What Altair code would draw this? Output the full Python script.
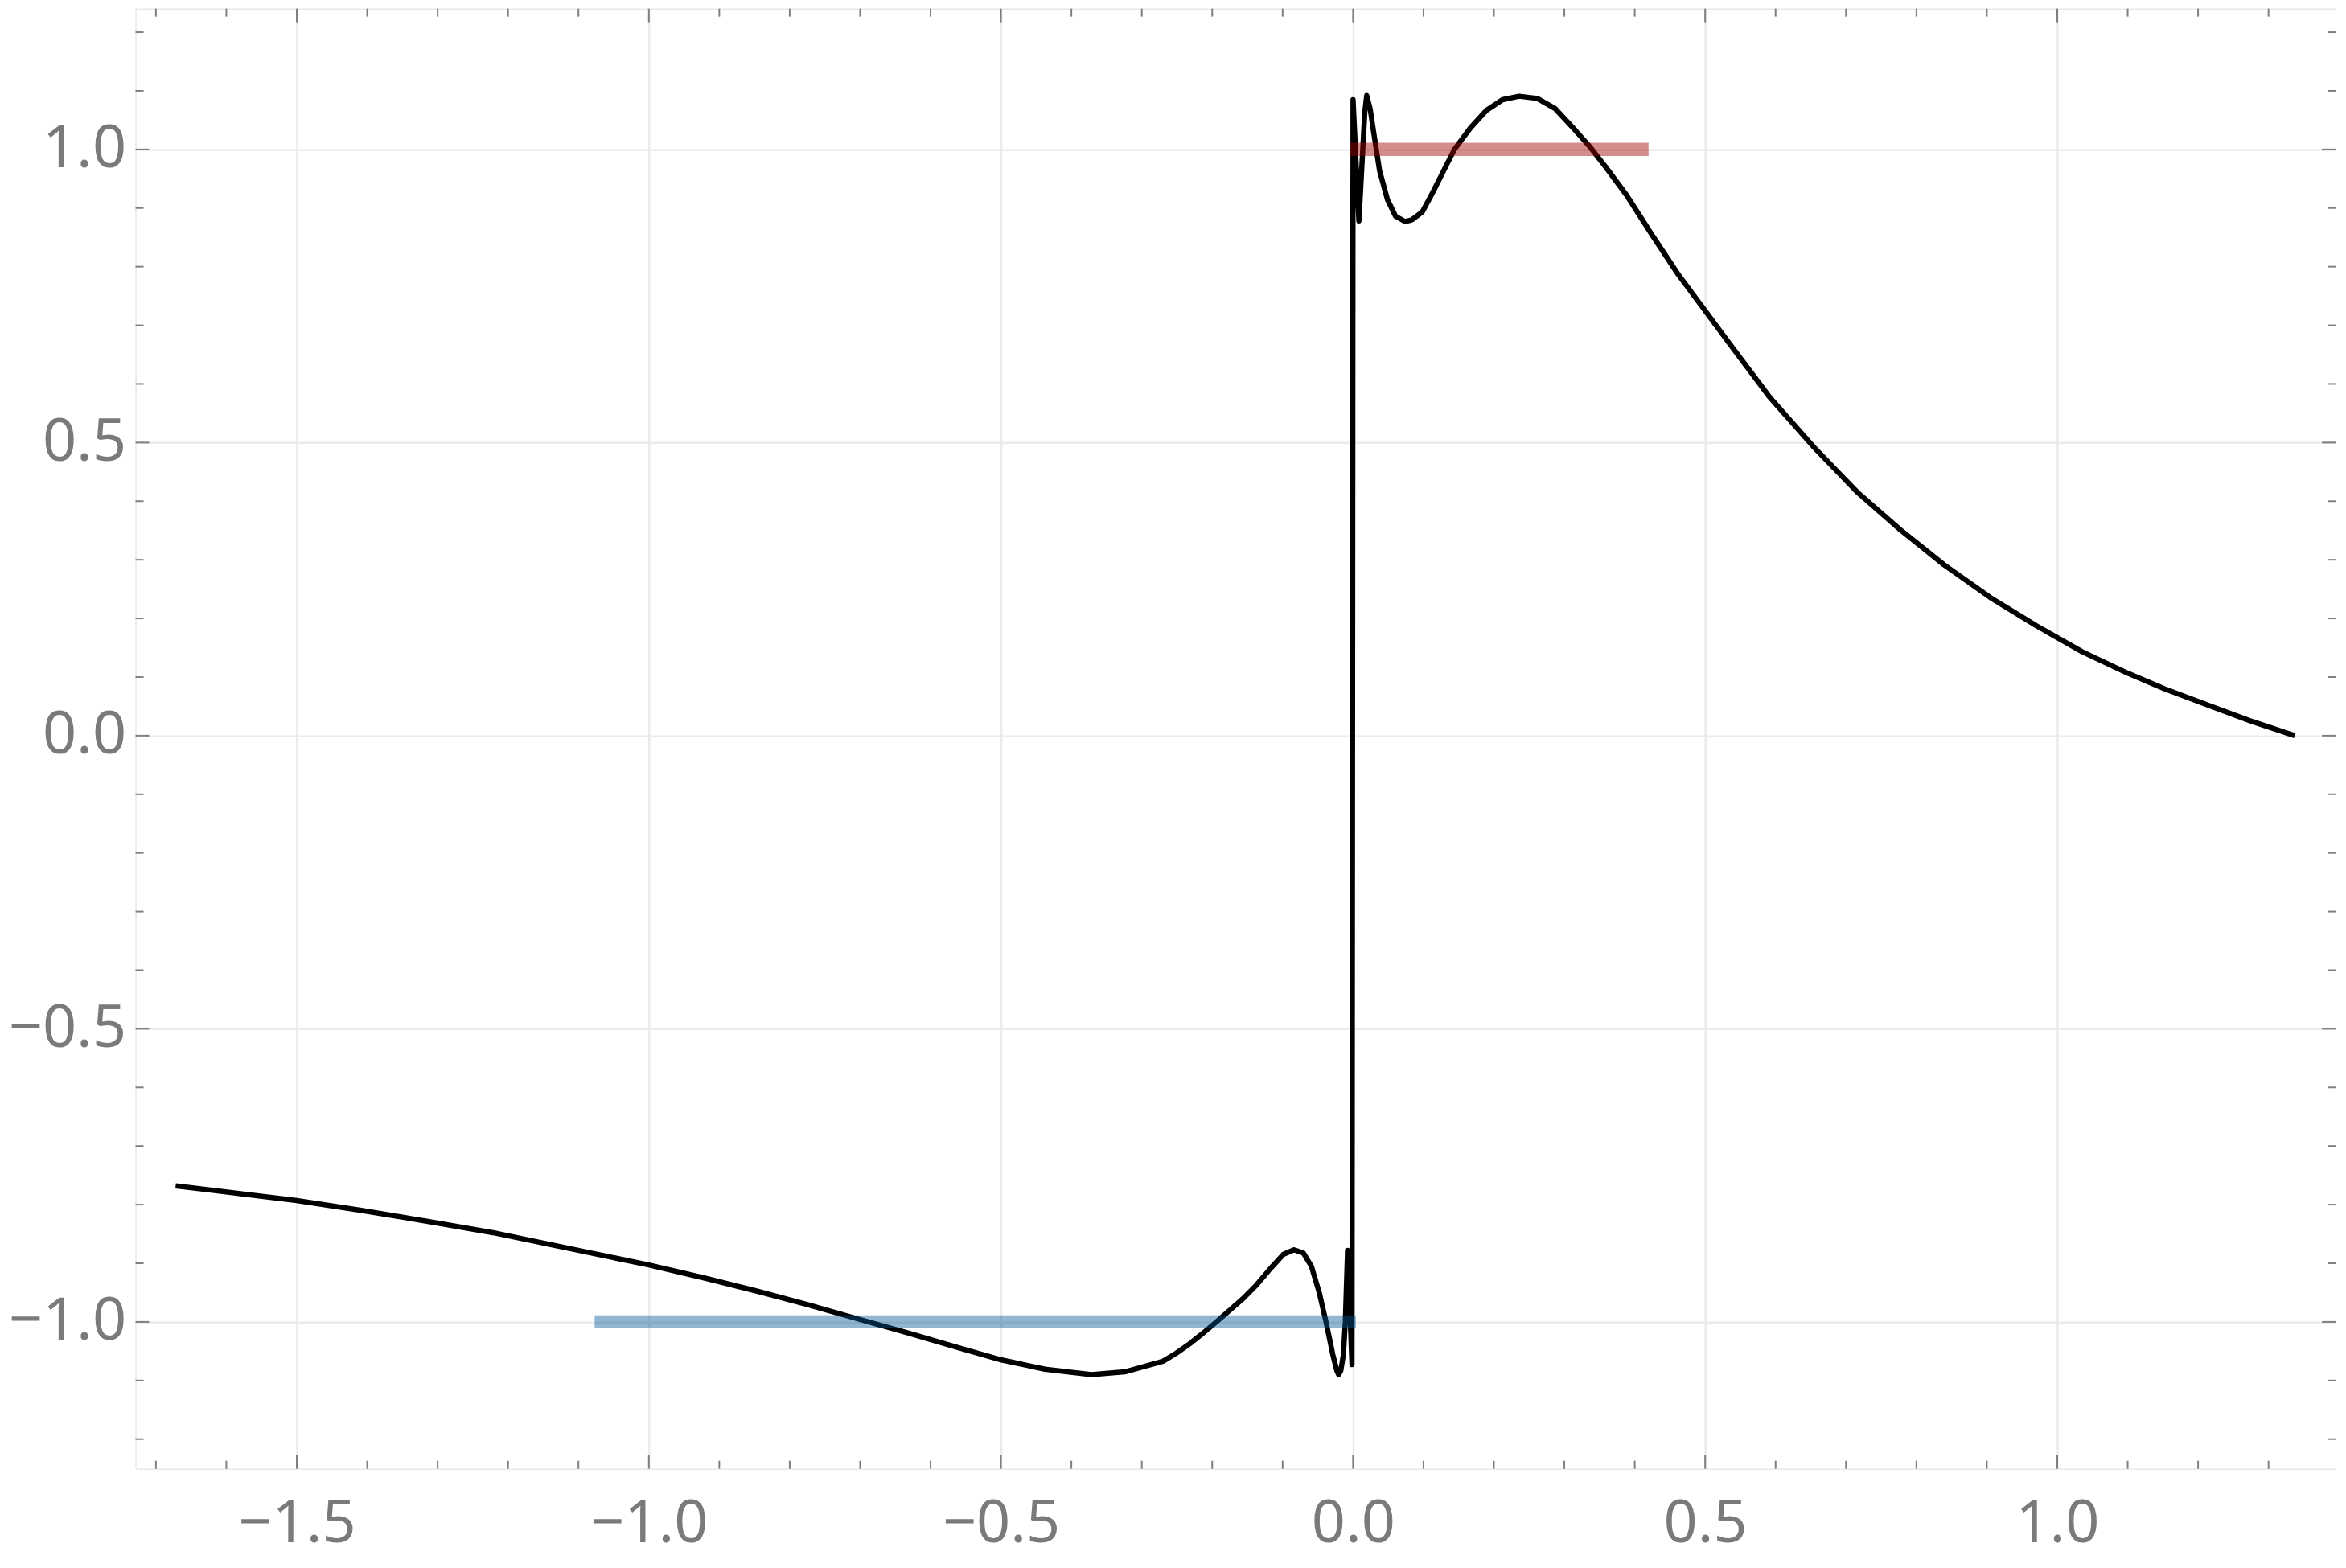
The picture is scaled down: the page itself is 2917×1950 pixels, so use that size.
import altair as alt
import pandas as pd

# ---- data ----
curve_x = [-1.672, -1.5, -1.4102, -1.317, -1.2214, -1.128, -1.0, -0.9191, -0.845,
           -0.7728, -0.703, -0.6312, -0.561, -0.499, -0.4376, -0.3715, -0.3243,
           -0.2699, -0.2509, -0.232, -0.213, -0.194, -0.175, -0.156, -0.137, -0.118,
           -0.0991, -0.0839, -0.0706, -0.0592, -0.0478, -0.0384, -0.0288, -0.0231,
           -0.0205, -0.0174, -0.0137, -0.011, -0.0078, -0.0015, 0.0,
           0.0083, 0.011, 0.014, 0.0167, 0.0194, 0.0243, 0.030, 0.0376, 0.049, 0.0604,
           0.0738, 0.0831, 0.0983, 0.1135, 0.1287, 0.1439, 0.1667, 0.1894, 0.2122,
           0.2358, 0.2616, 0.2866, 0.3153, 0.3374, 0.3588, 0.3884, 0.4241, 0.461,
           0.5338, 0.5919, 0.6537, 0.7155, 0.7774, 0.8392, 0.9047, 0.970, 1.0356,
           1.101, 1.152, 1.2173, 1.2755, 1.3373]
curve_y = [-0.768, -0.793, -0.8095, -0.828, -0.8478, -0.871, -0.903, -0.9257, -0.948,
           -0.9713, -0.995, -1.0192, -1.044, -1.065, -1.0807, -1.0899, -1.0852,
           -1.0672, -1.0533, -1.0374, -1.0192, -1.0, -0.980, -0.960, -0.937, -0.910,
           -0.885, -0.877, -0.8826, -0.905, -0.951, -1.0, -1.0557, -1.083,
           -1.090, -1.083, -1.0557, -1.0, -0.878, -1.073, 1.085,
           0.878, 0.937, 1.005, 1.064, 1.092, 1.0689, 1.0236, 0.964, 0.914, 0.886,
           0.877, 0.8797, 0.8933, 0.9275, 0.964, 1.0, 1.0369, 1.0666, 1.0848,
           1.0908, 1.0871, 1.070, 1.033, 1.003, 0.970, 0.922, 0.855, 0.788,
           0.670, 0.577, 0.493, 0.416, 0.351, 0.2915, 0.2358, 0.1877, 0.143,
           0.106, 0.080, 0.0505, 0.0246, 0.0]

red_x = [-0.005]
red_x2 = [0.4196]
red_y = [1.0]
blue_x = [-1.077]
blue_x2 = [0.004]
blue_y = [-1.0]

x_major = [-1.5, -1.0, -0.5, 0.0, 0.5, 1.0]
x_minor = [-1.7, -1.6, -1.4, -1.3, -1.2, -1.1, -0.9, -0.8, -0.7, -0.6, -0.4, -0.3,
           -0.2, -0.1, 0.1, 0.2, 0.3, 0.4, 0.6, 0.7, 0.8, 0.9, 1.1, 1.2, 1.3]
y_major = [-1.0, -0.5, 0.0, 0.5, 1.0]
y_minor = [-1.2, -1.1, -0.9, -0.8, -0.7, -0.6, -0.4, -0.3, -0.2, -0.1,
           0.1, 0.2, 0.3, 0.4, 0.6, 0.7, 0.8, 0.9, 1.1, 1.2]

# ---- layout ----
W, H = 2743, 1821
FRAME = "#7f7f7f"
LABEL = "#7a7a7a"
FONT = "Noto Sans"

xs = alt.Scale(domain=[-1.7289, 1.3952], nice=False, zero=False)
ys = alt.Scale(domain=[-1.2507, 1.2403], nice=False, zero=False)

curve = pd.DataFrame({"x": curve_x, "y": curve_y, "i": list(range(len(curve_x)))})
red = pd.DataFrame({"x": red_x, "x2": red_x2, "y": red_y})
blue = pd.DataFrame({"x": blue_x, "x2": blue_x2, "y": blue_y})
xmaj = pd.DataFrame({"v": x_major})
xmin = pd.DataFrame({"v": x_minor})
ymaj = pd.DataFrame({"v": y_major})
ymin = pd.DataFrame({"v": y_minor})


def x_axis():
    return alt.Axis(values=x_major, grid=True, gridColor="#ebebeb", gridWidth=2.5,
                    ticks=False, domain=False, labelFont=FONT, labelFontSize=74,
                    labelColor=LABEL, labelPadding=33, format=".1f", title=None,
                    labelFlush=False, labelOverlap=False)


def y_axis():
    return alt.Axis(values=y_major, grid=True, gridColor="#ebebeb", gridWidth=2.5,
                    ticks=False, domain=False, labelFont=FONT, labelFontSize=74,
                    labelColor=LABEL, labelPadding=12, format=".1f", title=None,
                    labelFlush=False, labelOverlap=False)


line = alt.Chart(curve).mark_line(color="black", strokeWidth=6.5, strokeJoin="round").encode(
    x=alt.X("x:Q", scale=xs, axis=x_axis()),
    y=alt.Y("y:Q", scale=ys, axis=y_axis()),
    order=alt.Order("i:Q"),
)

red_bar = alt.Chart(red).mark_rule(color="#a00000", opacity=0.45, strokeWidth=16.5,
                                   strokeCap="butt").encode(
    x=alt.X("x:Q", scale=xs, axis=x_axis()), x2="x2:Q",
    y=alt.Y("y:Q", scale=ys, axis=y_axis()),
)
blue_bar = alt.Chart(blue).mark_rule(color="#005596", opacity=0.43, strokeWidth=16.5,
                                     strokeCap="butt").encode(
    x=alt.X("x:Q", scale=xs, axis=x_axis()), x2="x2:Q",
    y=alt.Y("y:Q", scale=ys, axis=y_axis()),
)


def xticks(df, length):
    base = alt.Chart(df).mark_rule(color=FRAME, strokeWidth=2)
    bottom = base.encode(x=alt.X("v:Q", scale=xs, axis=x_axis()),
                         y=alt.value(H), y2=alt.value(H - length))
    top = base.encode(x=alt.X("v:Q", scale=xs, axis=x_axis()),
                      y=alt.value(0), y2=alt.value(length))
    return [bottom, top]


def yticks(df, length):
    base = alt.Chart(df).mark_rule(color=FRAME, strokeWidth=2)
    left = base.encode(y=alt.Y("v:Q", scale=ys, axis=y_axis()),
                       x=alt.value(0), x2=alt.value(length))
    right = base.encode(y=alt.Y("v:Q", scale=ys, axis=y_axis()),
                        x=alt.value(W), x2=alt.value(W - length))
    return [left, right]


tick_layers = xticks(xmaj, 17) + xticks(xmin, 10) + yticks(ymaj, 17) + yticks(ymin, 10)

chart = alt.layer(line, red_bar, blue_bar, *tick_layers).properties(
    width=W, height=H,
    autosize=alt.AutoSizeParams(type="none"),
    padding={"left": 161, "top": 0, "right": 5, "bottom": 118},
).configure_view(stroke=FRAME, strokeWidth=2).configure(background="white")

chart.save("out.html", embed_options={"renderer": "svg", "actions": False})
